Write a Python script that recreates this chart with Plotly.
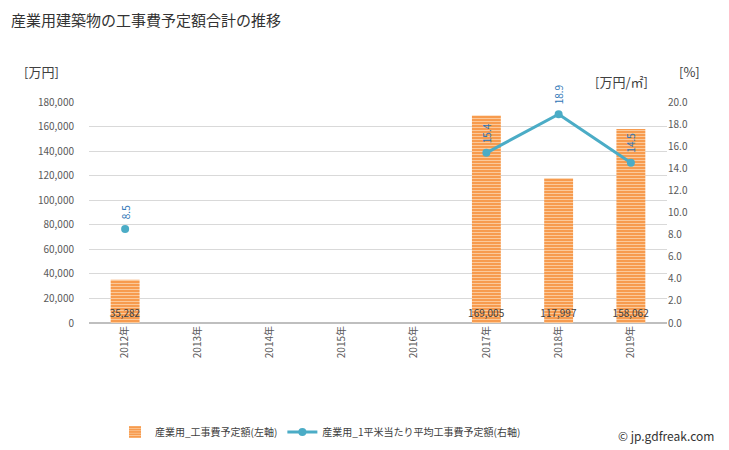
import plotly.graph_objects as go

years = ["2012年", "2013年", "2014年", "2015年", "2016年", "2017年", "2018年", "2019年"]
cost = [35282, None, None, None, None, 169005, 117997, 158062]
per_m2 = [8.5, None, None, None, None, 15.4, 18.9, 14.5]

bar_name = "産業用_工事費予定額(左軸)"
line_name = "産業用_1平米当たり平均工事費予定額(右軸)"

font_family = "Noto Sans CJK JP, Noto Sans, sans-serif"

fig = go.Figure()
fig.add_trace(go.Bar(
    x=years, y=cost, name=bar_name, width=0.4,
    marker=dict(color="#f79646", line=dict(width=0),
                pattern=dict(shape="-", fgcolor="#fbc99a", bgcolor="#f79646", size=3, solidity=0.4, fillmode="replace")),
    text=[f"{v:,}" if v is not None else "" for v in cost],
    textposition="inside", insidetextanchor="start", textangle=0,
    textfont=dict(size=10, color="#404040"),
    constraintext="none",
    cliponaxis=False,
))
fig.add_trace(go.Scatter(
    x=years, y=per_m2, name=line_name, yaxis="y2", mode="lines+markers",
    line=dict(color="#4bacc6", width=3), marker=dict(size=8, color="#4bacc6"),
    connectgaps=False,
))

for x, v in zip(years, per_m2):
    if v is not None:
        fig.add_annotation(x=x, y=v, xref="x", yref="y2", text=f"{v:.1f}", textangle=-90,
                           showarrow=False, yanchor="bottom", yshift=8,
                           font=dict(size=10, color="#2e75b6"))

fig.update_layout(
    width=729, height=450,
    margin=dict(l=89, r=62, t=102, b=127, autoexpand=False),
    paper_bgcolor="white", plot_bgcolor="white",
    font=dict(family=font_family, size=11, color="#595959"),
    uniformtext=dict(minsize=10, mode="show"),
    title=dict(text="産業用建築物の工事費予定額合計の推移", x=0.015, xanchor="left", y=0.955, yanchor="middle",
               font=dict(size=15, color="#333333")),
    bargap=0.6,
    showlegend=True,
    legend=dict(orientation="h", x=0.045, y=-0.493, xanchor="left", yanchor="middle",
                font=dict(size=10, color="#404040"), traceorder="normal", itemwidth=30),
    xaxis=dict(type="category", tickangle=-90, tickfont=dict(size=10, color="#595959"),
               showgrid=False, showline=False, ticks="", ticklen=0),
    yaxis=dict(range=[0, 180000], dtick=20000, tickformat=",", showgrid=True,
               gridcolor="#d9d9d9", gridwidth=1, zeroline=True, zerolinecolor="#bfbfbf", zerolinewidth=2,
               tickfont=dict(size=10, color="#595959"), ticks="", ticklabelstandoff=14),
    yaxis2=dict(range=[0, 20], dtick=2, tickformat=".1f", overlaying="y", side="right",
                showgrid=False, zeroline=False, tickfont=dict(size=10, color="#595959"), ticks=""),
)

fig.add_annotation(text="[万円]", xref="paper", yref="paper", x=-0.116, y=1.086, showarrow=False,
                   xanchor="left", yanchor="bottom", font=dict(size=13, color="#404040"))
fig.add_annotation(text="[万円/㎡]", xref="paper", yref="paper", x=0.872, y=1.04, showarrow=False,
                   xanchor="left", yanchor="bottom", font=dict(size=13, color="#404040"))
fig.add_annotation(text="[%]", xref="paper", yref="paper", x=1.017, y=1.086, showarrow=False,
                   xanchor="left", yanchor="bottom", font=dict(size=13, color="#404040"))
fig.add_annotation(text="© jp.gdfreak.com", xref="paper", yref="paper", x=1.085, y=-0.511, showarrow=False,
                   xanchor="right", yanchor="middle", font=dict(size=12, color="#333333"))

fig.write_html("out.html")
